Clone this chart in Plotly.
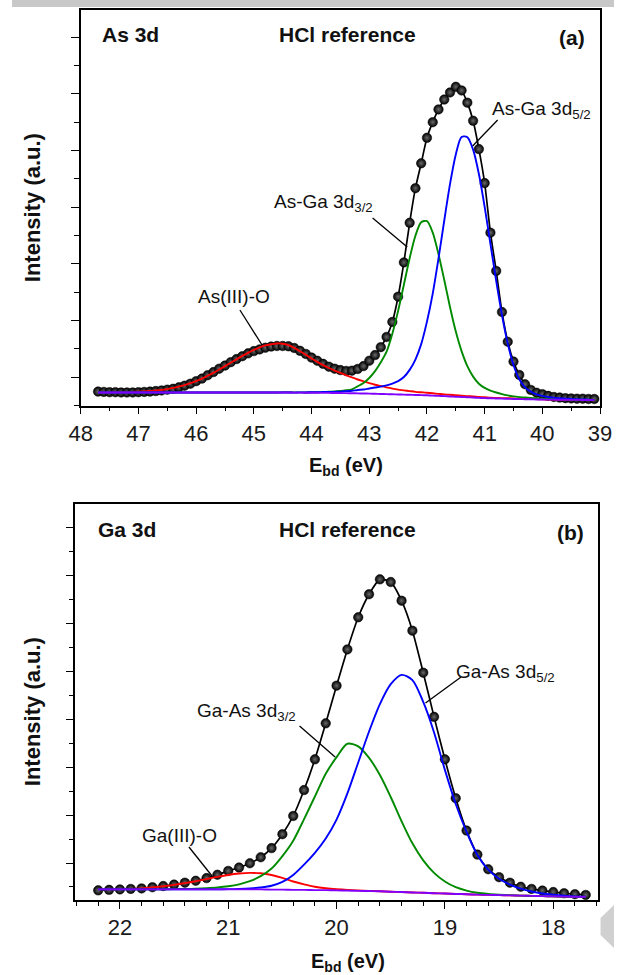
import numpy as np
import plotly.graph_objects as go

W, H = 626, 975

# ---------------- As 3d (panel a) ----------------
# binding-energy scan grid (0.1 eV step)
as_energy = np.round(np.arange(47.7, 39.05, -0.1), 1)

as_data = [0.49, 0.48, 0.47, 0.47, 0.46, 0.46, 0.46, 0.47, 0.48, 0.49,
           0.51, 0.53, 0.56, 0.59, 0.64, 0.70, 0.77, 0.86, 0.95, 1.07,
           1.18, 1.30, 1.41, 1.53, 1.64, 1.74, 1.84, 1.92, 1.98, 2.04,
           2.08, 2.10, 2.10, 2.09, 2.03, 1.93, 1.82, 1.69, 1.58, 1.47,
           1.37, 1.30, 1.25, 1.22, 1.23, 1.29, 1.39, 1.58, 1.78, 2.06,
           2.42, 2.95, 3.84, 5.05, 6.45, 7.67, 8.55, 9.45, 10.00, 10.45,
           10.80, 11.05, 11.25, 11.12, 10.69, 10.05, 9.05, 7.85, 6.10, 4.75,
           3.30, 2.25, 1.55, 1.08, 0.75, 0.55, 0.45, 0.40, 0.34, 0.30,
           0.28, 0.26, 0.25, 0.24, 0.24, 0.23, 0.23]

as_background = [0.46, 0.46, 0.46, 0.46, 0.46, 0.46, 0.46, 0.46, 0.46, 0.46,
                 0.46, 0.46, 0.46, 0.46, 0.46, 0.46, 0.46, 0.46, 0.46, 0.46,
                 0.46, 0.46, 0.46, 0.46, 0.46, 0.46, 0.46, 0.46, 0.46, 0.46,
                 0.46, 0.46, 0.46, 0.46, 0.455, 0.455, 0.45, 0.45, 0.448, 0.446,
                 0.444, 0.442, 0.44, 0.436, 0.432, 0.428, 0.424, 0.42, 0.414, 0.408,
                 0.402, 0.396, 0.39, 0.384, 0.378, 0.372, 0.366, 0.36, 0.35, 0.34,
                 0.33, 0.32, 0.31, 0.30, 0.29, 0.28, 0.27, 0.26, 0.254, 0.248,
                 0.242, 0.236, 0.23, 0.226, 0.222, 0.218, 0.214, 0.21, 0.208, 0.206,
                 0.204, 0.202, 0.20, 0.198, 0.196, 0.194, 0.19]

as_oxide = [0.00, 0.00, 0.00, 0.01, 0.01, 0.01, 0.02, 0.03, 0.04, 0.05,
            0.07, 0.09, 0.12, 0.16, 0.21, 0.26, 0.33, 0.40, 0.49, 0.59,
            0.69, 0.81, 0.93, 1.05, 1.17, 1.29, 1.40, 1.50, 1.59, 1.66,
            1.70, 1.73, 1.72, 1.67, 1.58, 1.46, 1.34, 1.21, 1.09, 0.98,
            0.88, 0.79, 0.71, 0.63, 0.56, 0.49, 0.43, 0.37, 0.32, 0.28,
            0.24, 0.20, 0.17, 0.15, 0.13, 0.11, 0.10, 0.09, 0.08, 0.07,
            0.06, 0.06, 0.05, 0.05, 0.04, 0.04, 0.03, 0.03, 0.02, 0.02,
            0.02, 0.02, 0.02, 0.01, 0.01, 0.01, 0.01, 0.01, 0.00, 0.00,
            0.00, 0.00, 0.00, 0.00, 0.00, 0.00, 0.00]

as_d32 = [0.00, 0.00, 0.00, 0.00, 0.00, 0.00, 0.00, 0.00, 0.00, 0.00,
          0.00, 0.00, 0.00, 0.00, 0.00, 0.00, 0.00, 0.00, 0.00, 0.00,
          0.00, 0.00, 0.00, 0.00, 0.00, 0.00, 0.00, 0.00, 0.00, 0.00,
          0.00, 0.00, 0.01, 0.01, 0.01, 0.01, 0.01, 0.02, 0.02, 0.03,
          0.04, 0.05, 0.07, 0.10, 0.14, 0.25, 0.37, 0.55, 0.80, 1.12,
          1.50, 2.14, 2.95, 3.88, 4.82, 5.62, 6.10, 6.15, 5.75, 5.00,
          4.10, 3.15, 2.30, 1.62, 1.10, 0.74, 0.50, 0.36, 0.27, 0.21,
          0.16, 0.12, 0.09, 0.07, 0.06, 0.05, 0.04, 0.03, 0.03, 0.02,
          0.02, 0.02, 0.01, 0.01, 0.01, 0.01, 0.01]

as_d52 = [0.00, 0.00, 0.00, 0.00, 0.00, 0.00, 0.00, 0.00, 0.00, 0.00,
          0.00, 0.00, 0.00, 0.00, 0.00, 0.00, 0.00, 0.00, 0.00, 0.00,
          0.00, 0.00, 0.00, 0.00, 0.00, 0.00, 0.00, 0.00, 0.00, 0.00,
          0.00, 0.00, 0.00, 0.00, 0.00, 0.01, 0.01, 0.02, 0.02, 0.03,
          0.03, 0.04, 0.05, 0.07, 0.09, 0.12, 0.14, 0.18, 0.22, 0.26,
          0.31, 0.38, 0.47, 0.62, 0.88, 1.25, 1.80, 2.60, 3.60, 4.85,
          6.20, 7.50, 8.55, 9.18, 9.18, 8.75, 7.90, 6.75, 5.45, 4.15,
          2.95, 1.95, 1.20, 0.70, 0.42, 0.27, 0.18, 0.13, 0.09, 0.07,
          0.05, 0.04, 0.03, 0.02, 0.02, 0.01, 0.01]

# ---------------- Ga 3d (panel b) ----------------
ga_energy = np.round(np.arange(22.2, 17.65, -0.1), 1)

ga_data = [0.86, 0.88, 0.90, 0.92, 0.94, 0.99, 1.04, 1.10, 1.18, 1.26,
           1.37, 1.51, 1.67, 1.81, 1.99, 2.24, 2.62, 3.20, 3.96, 5.04,
           6.32, 7.82, 9.39, 10.90, 12.24, 13.20, 13.82, 13.71, 12.93, 11.68,
           9.93, 8.09, 6.32, 4.70, 3.35, 2.35, 1.74, 1.41, 1.18, 1.01,
           0.92, 0.85, 0.79, 0.74, 0.70, 0.67]

ga_background = [0.90, 0.90, 0.90, 0.90, 0.90, 0.90, 0.90, 0.90, 0.90, 0.90,
                 0.90, 0.90, 0.90, 0.90, 0.90, 0.90, 0.89, 0.89, 0.88, 0.88,
                 0.87, 0.87, 0.86, 0.85, 0.84, 0.83, 0.82, 0.80, 0.79, 0.77,
                 0.76, 0.74, 0.73, 0.71, 0.70, 0.68, 0.67, 0.66, 0.65, 0.64,
                 0.63, 0.62, 0.61, 0.60, 0.59, 0.59]

ga_oxide = [0.00, 0.00, 0.01, 0.02, 0.04, 0.08, 0.13, 0.19, 0.26, 0.34,
            0.43, 0.52, 0.60, 0.66, 0.69, 0.67, 0.61, 0.49, 0.35, 0.23,
            0.14, 0.08, 0.05, 0.03, 0.02, 0.01, 0.00, 0.00, 0.00, 0.00,
            0.00, 0.00, 0.00, 0.00, 0.00, 0.00, 0.00, 0.00, 0.00, 0.00,
            0.00, 0.00, 0.00, 0.00, 0.00, 0.00]

ga_d32 = [0.00, 0.00, 0.00, 0.00, 0.00, 0.00, 0.00, 0.01, 0.02, 0.03,
          0.05, 0.08, 0.13, 0.21, 0.34, 0.55, 0.88, 1.40, 2.05, 2.95,
          3.90, 4.85, 5.55, 6.12, 6.02, 5.55, 4.85, 3.95, 2.95, 2.05,
          1.35, 0.85, 0.50, 0.28, 0.15, 0.08, 0.04, 0.02, 0.01, 0.00,
          0.00, 0.00, 0.00, 0.00, 0.00, 0.00]

ga_d52 = [0.00, 0.00, 0.00, 0.00, 0.00, 0.00, 0.00, 0.00, 0.00, 0.00,
          0.00, 0.00, 0.01, 0.02, 0.04, 0.08, 0.16, 0.32, 0.62, 1.05,
          1.55, 2.15, 2.95, 4.05, 5.35, 6.65, 7.80, 8.65, 9.05, 8.85,
          7.95, 6.70, 5.15, 3.75, 2.60, 1.65, 1.05, 0.68, 0.45, 0.29,
          0.18, 0.11, 0.07, 0.04, 0.02, 0.01]

FONT = "Liberation Sans, Arial, sans-serif"
C_RED, C_GREEN, C_BLUE, C_VIOLET = "#ff0000", "#008a00", "#0000ff", "#8000ff"


def px(x):
    return x / W


def py(y):
    return 1 - y / H


fig = go.Figure()


def add_panel(xa, ya, energy, data, bg, oxide, d32, d52):
    bg = np.array(bg)
    fig.add_trace(go.Scatter(
        x=energy, y=data, mode="lines+markers", xaxis=xa, yaxis=ya,
        line=dict(color="black", width=1.7, shape="spline", smoothing=0.6),
        marker=dict(size=9.5, color="black",
                    gradient=dict(type="radial", color="#6a6a6a"),
                    line=dict(width=0.5, color="black")),
        showlegend=False, hoverinfo="skip"))
    for comp, col in ((oxide, C_RED), (d32, C_GREEN), (d52, C_BLUE)):
        fig.add_trace(go.Scatter(
            x=energy, y=bg + np.array(comp), mode="lines", xaxis=xa, yaxis=ya,
            line=dict(color=col, width=1.9, shape="spline", smoothing=0.8),
            showlegend=False, hoverinfo="skip"))
    fig.add_trace(go.Scatter(
        x=energy, y=bg, mode="lines", xaxis=xa, yaxis=ya,
        line=dict(color=C_VIOLET, width=1.9, shape="spline", smoothing=0.8),
        showlegend=False, hoverinfo="skip"))


add_panel("x", "y", as_energy, as_data, as_background, as_oxide, as_d32, as_d52)
add_panel("x2", "y2", ga_energy, ga_data, ga_background, ga_oxide, ga_d32, ga_d52)

axis_common = dict(showline=True, linecolor="black", linewidth=1.5, mirror=True,
                   showgrid=False, zeroline=False, ticks="outside",
                   tickcolor="black", tickwidth=1.4)

fig.update_layout(
    width=W, height=H, margin=dict(l=0, r=0, t=0, b=0),
    paper_bgcolor="white", plot_bgcolor="white",
    font=dict(family=FONT, color="#1a1a1a"),
    xaxis=dict(domain=[px(71.5), px(611.5)], range=[48, 39], anchor="y",
               tick0=0, dtick=1, ticklen=7, tickfont=dict(size=22, family=FONT),
               minor=dict(dtick=0.5, ticklen=4, ticks="outside", tickcolor="black", tickwidth=1.4),
               **axis_common),
    yaxis=dict(domain=[py(405.5), py(10)], range=[0, 13.96], anchor="x",
               showticklabels=False, tick0=1, dtick=2, ticklen=8,
               minor=dict(tick0=0, dtick=1, ticklen=5, ticks="outside", tickcolor="black", tickwidth=1.4),
               **axis_common),
    xaxis2=dict(domain=[px(66), px(609)], range=[22.41, 17.59], anchor="y2",
                tick0=0, dtick=1, ticklen=7, tickfont=dict(size=22, family=FONT),
                minor=dict(dtick=0.2, ticklen=4, ticks="outside", tickcolor="black", tickwidth=1.4),
                **axis_common),
    yaxis2=dict(domain=[py(900), py(504)], range=[0.458, 16.96], anchor="x2",
                showticklabels=False, tick0=0, dtick=2, ticklen=8,
                minor=dict(tick0=1, dtick=1, ticklen=5, ticks="outside", tickcolor="black", tickwidth=1.4),
                **axis_common),
)

annotations = []


def ann(text, x, y, size=20, bold=False, xanchor="left", angle=0):
    if bold:
        text = "<b>" + text + "</b>"
    annotations.append(dict(text=text, x=px(x), y=py(y), xref="paper", yref="paper",
                            xanchor=xanchor, yanchor="middle", showarrow=False,
                            textangle=angle, font=dict(family=FONT, size=size, color="#111")))


# panel headers
ann("As 3d", 92, 35, 21, True)
ann("HCl reference", 349, 35, 21, True, "center")
ann("(a)", 582, 38, 21, True, "center")
ann("Ga 3d", 87, 529, 21, True)
ann("HCl reference", 349, 529, 21, True, "center")
ann("(b)", 581, 532, 21, True, "center")

# peak labels
ann("As-Ga 3d<sub>5/2</sub>", 497, 110, 19)
ann("As-Ga 3d<sub>3/2</sub>", 270, 203, 19)
ann("As(III)-O", 191, 296, 19)
ann("Ga-As 3d<sub>5/2</sub>", 460, 673, 19)
ann("Ga-As 3d<sub>3/2</sub>", 190, 712, 19)
ann("Ga(III)-O", 133, 835, 19)

# axis titles
ann("E<sub>bd</sub> (eV)", 347, 466, 20, True, "center")
ann("E<sub>bd</sub> (eV)", 349, 962, 20, True, "center")
ann("Intensity (a.u.)", 21, 208, 22, True, "center", -90)
ann("Intensity (a.u.)", 21, 712, 22, True, "center", -90)

fig.update_layout(annotations=annotations)

shapes = []
# leader lines
for (x0, y0, x1, y1) in [(505, 120, 479, 146), (375, 218, 411, 247), (237, 310, 260, 345),
                         (467, 677, 430, 703), (299, 726, 336, 757), (184, 847, 208, 876)]:
    shapes.append(dict(type="line", xref="paper", yref="paper",
                       x0=px(x0), y0=py(y0), x1=px(x1), y1=py(y1),
                       line=dict(color="black", width=1.3)))
# grey page strip at the top and corner badge
shapes.append(dict(type="rect", xref="paper", yref="paper", x0=0, x1=1, y0=py(7), y1=1,
                   fillcolor="#c8c8c8", line=dict(width=0), layer="below"))
shapes.append(dict(type="path", xref="paper", yref="paper",
                   path="M {} {} L {} {} L {} {} L {} {} Z".format(px(626), py(905), px(612), py(918),
                                                                   px(612), py(935), px(626), py(948)),
                   fillcolor="#d0d0d0", line=dict(width=0)))
fig.update_layout(shapes=shapes)

fig.write_html("out.html")
